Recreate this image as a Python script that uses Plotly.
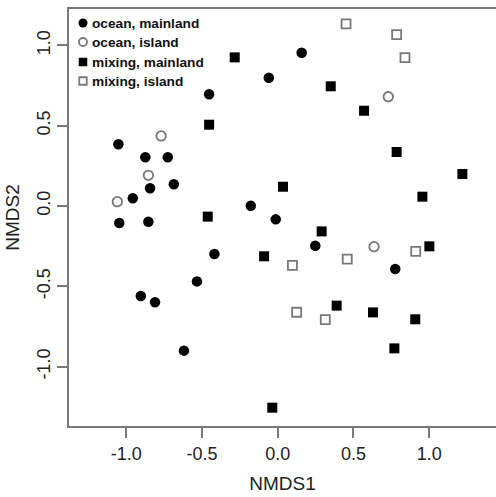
import plotly.graph_objects as go

# ---- data ----
ocean_mainland_x = [-1.052, -0.874, -0.726, -0.843, -0.686, -0.957, -1.046, -0.854, -0.418, -0.453,
                    0.158, -0.059, -0.178, -0.013, 0.248, 0.776, -0.533, -0.904, -0.810, -0.619]
ocean_mainland_y = [0.384, 0.303, 0.303, 0.110, 0.135, 0.048, -0.106, -0.098, -0.299, 0.695,
                    0.954, 0.798, 0.002, -0.083, -0.247, -0.392, -0.469, -0.560, -0.599, -0.900]

ocean_island_x = [-0.770, -0.854, -1.059, 0.730, 0.636]
ocean_island_y = [0.436, 0.191, 0.027, 0.680, -0.253]

mixing_mainland_x = [-0.284, -0.453, -0.462, 0.350, 0.570, 0.785, 1.219, 0.955, 0.035, 0.290,
                     -0.090, 0.389, 1.001, 0.629, 0.908, 0.770, -0.036]
mixing_mainland_y = [0.925, 0.506, -0.066, 0.745, 0.593, 0.336, 0.199, 0.058, 0.120, -0.158,
                     -0.313, -0.620, -0.251, -0.662, -0.705, -0.886, -1.255]

mixing_island_x = [0.451, 0.785, 0.840, 0.097, 0.459, 0.911, 0.125, 0.314]
mixing_island_y = [1.133, 1.066, 0.923, -0.369, -0.330, -0.282, -0.661, -0.707]

legend_labels = ["ocean, mainland", "ocean, island", "mixing, mainland", "mixing, island"]

tick_vals = [-1.0, -0.5, 0.0, 0.5, 1.0]
tick_text = ["-1.0", "-0.5", "0.0", "0.5", "1.0"]

# ---- styles ----
GRAY = "#787878"
FONT = "Liberation Sans, Arial, sans-serif"
styles = [
    dict(symbol="circle", size=10.5, color="black", line=dict(width=0)),
    dict(symbol="circle", size=9.5, color="white", line=dict(width=1.8, color=GRAY)),
    dict(symbol="square", size=10, color="black", line=dict(width=0)),
    dict(symbol="square", size=9, color="white", line=dict(width=1.8, color=GRAY)),
]
series = [
    (ocean_mainland_x, ocean_mainland_y),
    (ocean_island_x, ocean_island_y),
    (mixing_mainland_x, mixing_mainland_y),
    (mixing_island_x, mixing_island_y),
]

fig = go.Figure()
for (xs, ys), st, name in zip(series, styles, legend_labels):
    fig.add_trace(go.Scatter(x=xs, y=ys, mode="markers", marker=st, name=name,
                             showlegend=False, cliponaxis=False))

# ---- page geometry ----
W, H = 496, 497
L, R, T, B = 69, 0, 9, 497 - 426
pw, ph = W - L - R, H - T - B

# ---- manual legend (overlay axes in [0,1] coordinates of the plot area) ----
sym_px = 83 - 69          # from plot-area left edge
txt_px = 90 - 69
row_px = [23 - 9, 42 - 9, 62 - 9, 81 - 9]  # from plot-area top edge
for i, (st, name) in enumerate(zip(styles, legend_labels)):
    st2 = dict(st)
    st2["size"] = st["size"] - 1.5
    yy = 1 - row_px[i] / ph
    fig.add_trace(go.Scatter(x=[sym_px / pw], y=[yy], mode="markers", marker=st2,
                             xaxis="x2", yaxis="y2", showlegend=False, hoverinfo="skip",
                             cliponaxis=False))
    fig.add_annotation(x=txt_px / pw, y=yy, xref="x2", yref="y2", text="<b>%s</b>" % name,
                       showarrow=False, xanchor="left", yanchor="middle",
                       font=dict(family=FONT, size=13.7, color="#111"))

fig.update_layout(
    width=W, height=H,
    margin=dict(l=L, r=R, t=T, b=B, pad=0),
    plot_bgcolor="white", paper_bgcolor="white",
    showlegend=False,
    font=dict(family=FONT, size=19, color="#222"),
    xaxis=dict(range=[-1.378, 1.441], showgrid=False, zeroline=False,
               showline=True, linecolor=GRAY, linewidth=2, mirror=True,
               ticks="outside", ticklen=10, tickwidth=1.5, tickcolor=GRAY,
               tickvals=tick_vals, ticktext=tick_text,
               tickfont=dict(size=18, color="#222"),
               title=dict(text="NMDS1", font=dict(size=19, color="#222"), standoff=14)),
    yaxis=dict(range=[-1.369, 1.226], showgrid=False, zeroline=False,
               showline=True, linecolor=GRAY, linewidth=2, mirror=False,
               ticks="outside", ticklen=10, tickwidth=1.5, tickcolor=GRAY,
               tickvals=tick_vals, ticktext=tick_text, tickangle=-90,
               tickfont=dict(size=18, color="#222"),
               title=dict(text="NMDS2", font=dict(size=19, color="#222"), standoff=9)),
    xaxis2=dict(range=[0, 1], overlaying="x", visible=False),
    yaxis2=dict(range=[0, 1], overlaying="y", visible=False),
)

fig.write_html(
    "out.html",
    config={"displayModeBar": False},
    post_script="document.body.style.margin='0';document.body.style.overflow='hidden';",
)
